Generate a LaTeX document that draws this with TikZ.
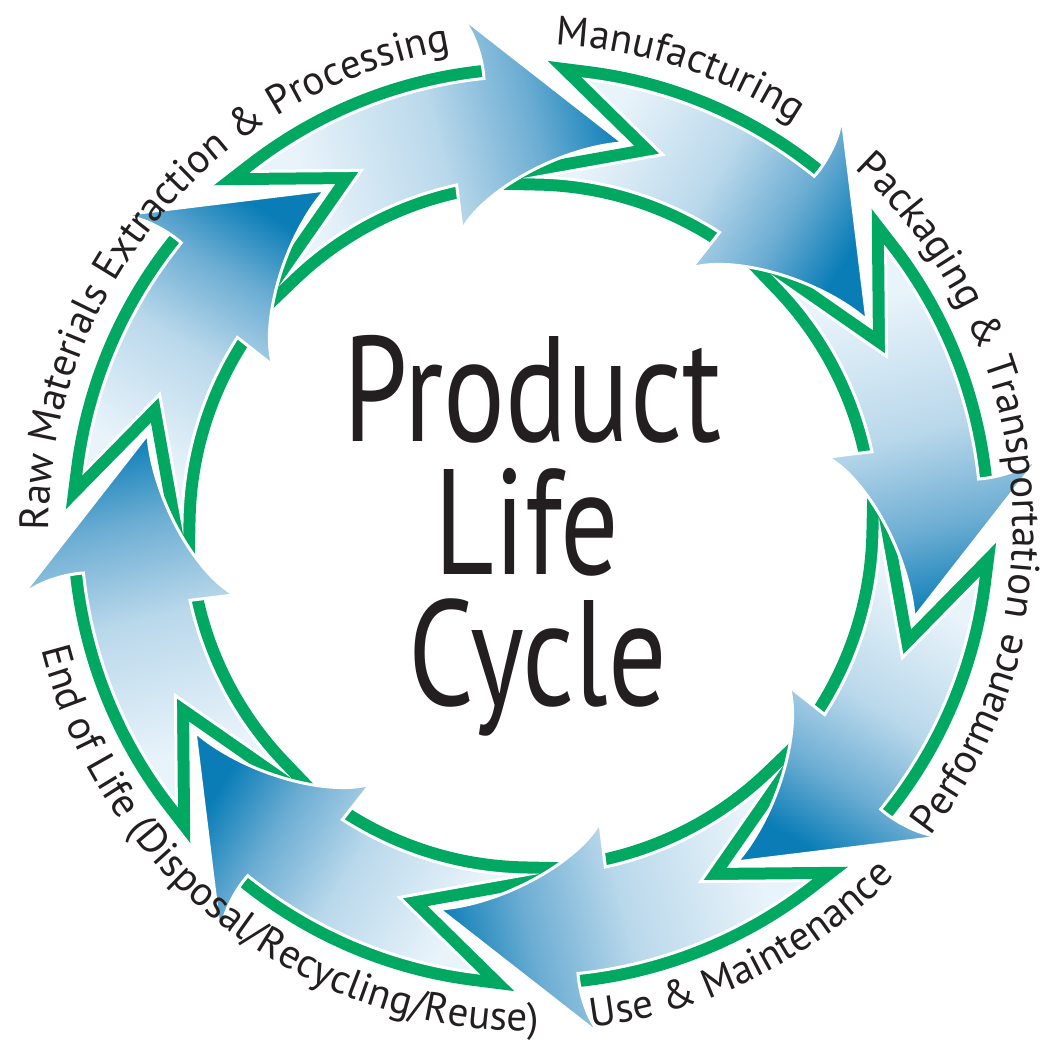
\documentclass[tikz,border=0pt]{standalone}
\usepackage{fontspec}
\usepackage{graphicx}
\usetikzlibrary{decorations.text}
\newfontfamily\ptsans{PT Sans}
\newcommand\lblfont{\ptsans\fontsize{41}{41}\selectfont}
\newcommand\ctrfont{\ptsans\fontsize{150}{150}\selectfont}
\definecolor{ringgreen}{HTML}{00A862}
\definecolor{arlight}{HTML}{E8F3FA}
\definecolor{armidl}{HTML}{B9D8EB}
\definecolor{armid}{HTML}{6CADD3}
\definecolor{ardark}{HTML}{0A7DB7}
\definecolor{txt}{HTML}{231F20}
\pgfdeclarehorizontalshading{arrshade}{100bp}{color(0bp)=(arlight); color(30bp)=(arlight); color(50bp)=(armidl); color(64bp)=(armid); color(76bp)=(ardark); color(100bp)=(ardark)}
\begin{document}
\begin{tikzpicture}[x=1pt,y=1pt,
  greenline/.style={draw=ringgreen, line width=27pt, line join=miter, miter limit=20, line cap=butt},
  arrowbody/.style={draw=white, line width=3pt, line join=miter, miter limit=20, shade, shading=arrshade},
  ctrtext/.style={font=\ctrfont, text=txt, anchor=base, inner sep=0pt}]
\useasboundingbox (-531,-517) rectangle (513,526);
\fill[white] (-531,-517) rectangle (513,526);
% green outlines
\foreach \p in {76.5,31.5,-13.5,-58.5,-103.5,-148.5,166.5,121.5}{
  \draw[greenline] ({\p+19}:450pt) arc[start angle=\p+19, end angle=\p+51.5, radius=450pt]
     -- ({\p+39}:394pt) -- ({\p+57.5}:349pt)
     arc[start angle=\p+57.5, end angle=\p+25, radius=349pt];
}
% arrows
\foreach \p in {76.5,31.5,-13.5,-58.5,-103.5,-148.5,166.5,121.5}{
  \pgfmathsetmacro{\sa}{\p-62.5}
  \path[arrowbody, shading angle=\sa] (\p:394pt) -- ({\p+21.7}:518pt)
     .. controls ({\p+19.9}:499.8pt) and ({\p+19.4}:466.5pt) .. ({\p+19.5}:450pt)
     arc[start angle=\p+19.5, end angle=\p+51.5, radius=450pt]
     -- ({\p+39}:394pt) -- ({\p+57.5}:349pt)
     arc[start angle=\p+57.5, end angle=\p+25.8, radius=349pt]
     -- ({\p+26.6}:304pt)
     .. controls ({\p+21.6}:338.9pt) and ({\p+9.1}:379.8pt) .. (\p:394pt) -- cycle;
}
% outer labels
\path[decorate, decoration={text along path, text align=center,
   text={|\lblfont\color{txt}|Raw Materials Extraction {\&} Processing}}]
   (190:482pt) arc[start angle=190, end angle=90, radius=482pt];
\path[decorate, decoration={text along path, text align=center,
   text={|\lblfont\color{txt}|Manufacturing}}]
   (106.9:482pt) arc[start angle=106.9, end angle=36.9, radius=482pt];
\path[decorate, decoration={text along path, text align=center,
   text={|\lblfont\color{txt}|Packaging {\&} Transportation}}]
   (58.5:482pt) arc[start angle=58.5, end angle=-21.5, radius=482pt];
\path[decorate, decoration={text along path, text align=center,
   text={|\lblfont\color{txt}|Performance}}]
   (-55.3:506pt) arc[start angle=-55.3, end angle=4.7, radius=506pt];
\path[decorate, decoration={text along path, text align=center,
   text={|\lblfont\color{txt}|Use {\&} Maintenance}}]
   (-98.5:505pt) arc[start angle=-98.5, end angle=-28.5, radius=505pt];
\path[decorate, decoration={text along path, text align=center,
   text={|\lblfont\color{txt}|End of Life (Disposal/Recycling/Reuse)}}]
   (187.5:505pt) arc[start angle=187.5, end angle=277.5, radius=505pt];
% centre title
\node[ctrtext] (product) at (1.5,84) {\scalebox{0.77}[1]{Product}};
\node[ctrtext] (life) at (-4,-49) {\scalebox{0.77}[1]{Life}};
\node[ctrtext] (cycle) at (7,-180) {\scalebox{0.77}[1]{Cycle}};
\end{tikzpicture}
\end{document}
